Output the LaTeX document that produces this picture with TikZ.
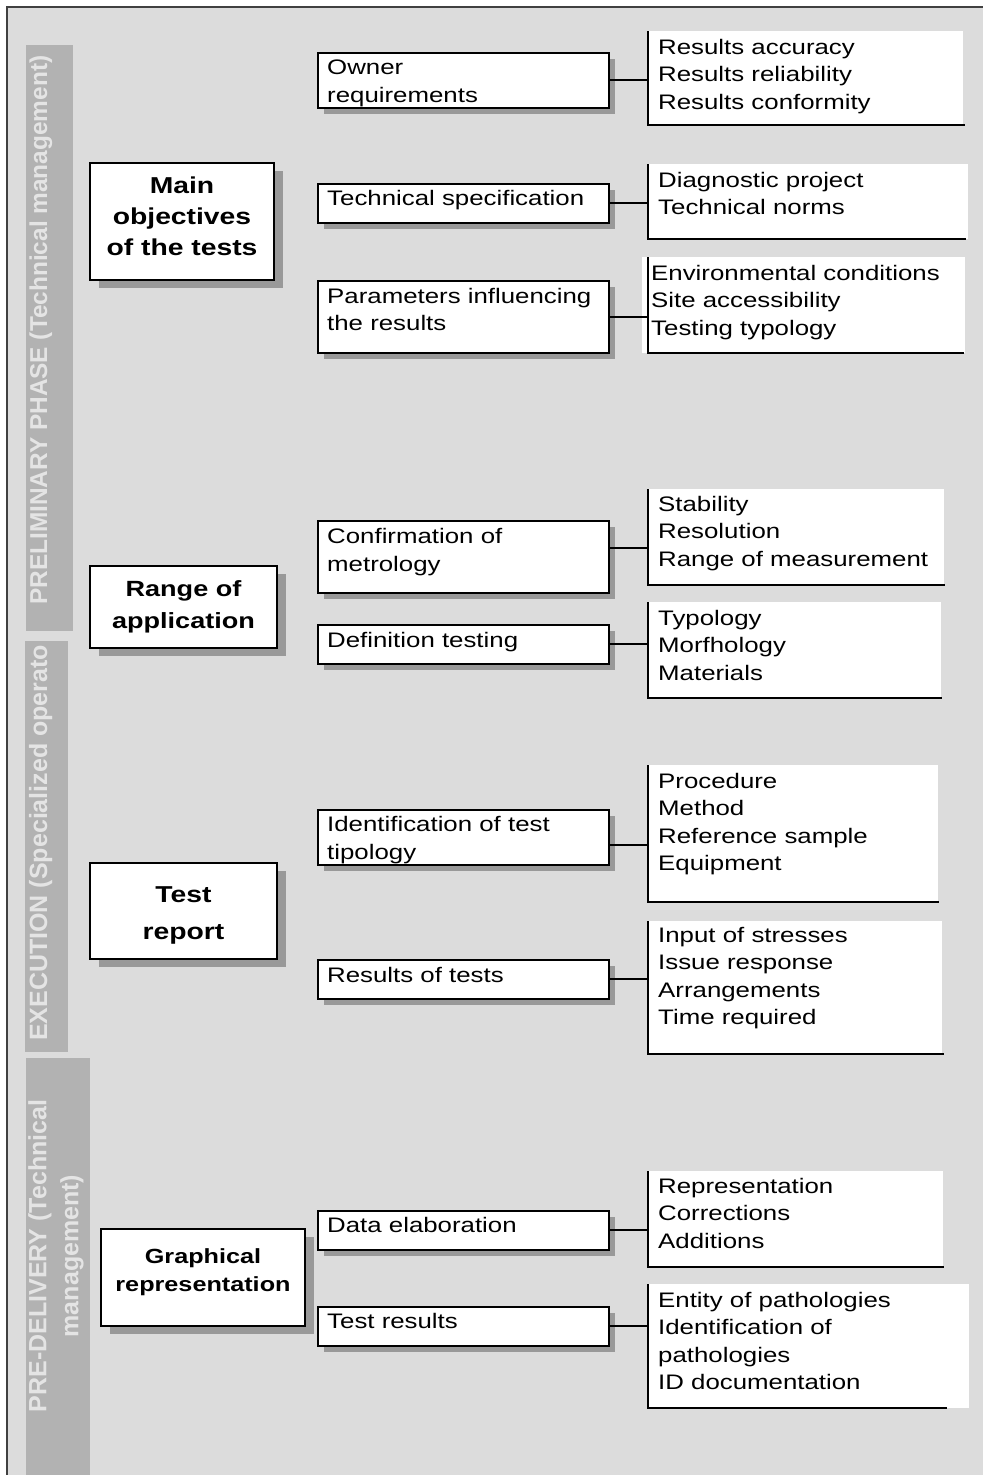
\documentclass[tikz,border=0pt]{standalone}
\usepackage{fontspec}
\setmainfont{Liberation Sans}
\newfontfamily\widefont{Liberation Sans}[FakeStretch=1.23]
\usetikzlibrary{shadows}
\definecolor{bgc}{HTML}{DCDCDC}
\definecolor{bandc}{HTML}{B2B2B2}
\definecolor{bandtext}{HTML}{E4E4E4}
\definecolor{shadc}{HTML}{999999}
\definecolor{framec}{HTML}{404040}
\begin{document}
\begin{tikzpicture}[x=1pt,y=-1pt,
 mainbox/.style={draw=black, line width=1.8pt, fill=white, rectangle, inner sep=0pt,
   general shadow={fill=shadc, shadow xshift=9pt, shadow yshift=-8pt}},
 maintxt/.style={inner sep=0pt, align=center},
 midbox/.style={draw=black, line width=1.8pt, fill=white, rectangle, inner sep=0pt, anchor=north west,
   minimum width=291pt, general shadow={fill=shadc, shadow xshift=6pt, shadow yshift=-6pt}},
 rbox/.style={fill=white, rectangle, inner sep=0pt, anchor=north west},
 txt/.style={anchor=north west, inner sep=0pt, align=left, font=\widefont\fontsize{21}{27.5}\selectfont},
 bandtxt/.style={rotate=90, inner sep=0pt, text=bandtext, font=\bfseries\fontsize{24.4}{32}\selectfont},
 conn/.style={line width=2pt, draw=black},
 rline/.style={line width=2pt}
]
\useasboundingbox (0,0) rectangle (983,1475);
\fill[white] (0,0) rectangle (983,1475);
\fill[bgc] (7,7) rectangle (983,1475);
\draw[framec, line width=1.5pt] (7,1475) -- (7,7) -- (983,7);

% bands
\fill[bandc] (26,45) rectangle (73,631);
\fill[bandc] (25,641) rectangle (68,1052);
\fill[bandc] (26,1058) rectangle (90,1475);
\node[bandtxt, anchor=base west] (t1) at (47,605) {PRELIMINARY PHASE (Technical management)};
\begin{scope}
\clip (25,641) rectangle (68,1052);
\node[bandtxt, anchor=base west, font=\bfseries\fontsize{25}{32}\selectfont] (t2) at (47,1041) {EXECUTION (Specialized operato};
\end{scope}
\node[bandtxt, align=center, font=\bfseries\fontsize{25}{32}\selectfont] (t3) at (56,1256) {PRE-DELIVERY (Technical\\management)};

% main boxes
\node[mainbox, minimum width=184pt, minimum height=117pt] (A) at (182,221.5) {};
\node[maintxt, font=\widefont\bfseries\fontsize{23}{31}\selectfont] (At) at ([yshift=5pt]A.center) {Main\\objectives\\of the tests};
\node[mainbox, minimum width=187pt, minimum height=82pt] (B) at (183.5,607) {};
\node[maintxt, font=\widefont\bfseries\fontsize{22}{32}\selectfont] (Bt) at (B.center) {Range of\\application};
\node[mainbox, minimum width=187pt, minimum height=96pt] (C) at (183.5,911) {};
\node[maintxt, font=\widefont\bfseries\fontsize{23}{37}\selectfont] (Ct) at ([yshift=-4pt]C.center) {Test\\report};
\node[mainbox, minimum width=204pt, minimum height=97pt] (D) at (203,1277.5) {};
\node[maintxt, font=\widefont\bfseries\fontsize{20.5}{28}\selectfont] (Dt) at ([yshift=5pt]D.center) {Graphical\\representation};

% middle boxes
\node[midbox, minimum height=55pt] (m1) at (317,52) {};
\node[midbox, minimum height=39pt] (m2) at (317,183) {};
\node[midbox, minimum height=72pt] (m3) at (317,280) {};
\node[midbox, minimum height=72pt] (m4) at (317,520) {};
\node[midbox, minimum height=39pt] (m5) at (317,624) {};
\node[midbox, minimum height=55pt] (m6) at (317,809) {};
\node[midbox, minimum height=39pt] (m7) at (317,959) {};
\node[midbox, minimum height=39pt] (m8) at (317,1210) {};
\node[midbox, minimum height=39pt] (m9) at (317,1306) {};

\node[txt] (m1t) at ([xshift=10pt,yshift=-8pt]m1.north west) {Owner\\requirements};
\node[txt] (m2t) at ([xshift=10pt,yshift=-7.5pt]m2.north west) {Technical specification};
\node[txt] (m3t) at ([xshift=10pt,yshift=-8pt]m3.north west) {Parameters influencing\\the results};
\node[txt] (m4t) at ([xshift=10pt,yshift=-8.5pt]m4.north west) {Confirmation of\\metrology};
\node[txt] (m5t) at ([xshift=10pt,yshift=-8pt]m5.north west) {Definition testing};
\node[txt] (m6t) at ([xshift=10pt,yshift=-7.5pt]m6.north west) {Identification of test\\tipology};
\node[txt] (m7t) at ([xshift=10pt,yshift=-8pt]m7.north west) {Results of tests};
\node[txt] (m8t) at ([xshift=10pt,yshift=-7.5pt]m8.north west) {Data elaboration};
\node[txt] (m9t) at ([xshift=10pt,yshift=-7.5pt]m9.north west) {Test results};

% right boxes
\fill[white] (642,257) rectangle (648,353);
\node[rbox, minimum width=315pt, minimum height=94pt] (r1) at (648,31) {};
\node[rbox, minimum width=320pt, minimum height=75pt] (r2) at (648,164) {};
\node[rbox, minimum width=317pt, minimum height=96pt] (r3) at (648,257) {};
\node[rbox, minimum width=296pt, minimum height=96pt] (r4) at (648,489) {};
\node[rbox, minimum width=293pt, minimum height=96pt] (r5) at (648,602) {};
\node[rbox, minimum width=290pt, minimum height=137pt] (r6) at (648,765) {};
\node[rbox, minimum width=294pt, minimum height=133pt] (r7) at (648,921) {};
\node[rbox, minimum width=295pt, minimum height=96pt] (r8) at (648,1171) {};
\node[rbox, minimum width=321pt, minimum height=124pt] (r9) at (648,1284) {};

\draw[rline] (r1.north west) -- (r1.south west) -- ([xshift=2pt]r1.south east);
\draw[rline] (r2.north west) -- (r2.south west) -- ([xshift=-2pt]r2.south east);
\draw[rline] (r3.north west) -- (r3.south west) -- ([xshift=-1pt]r3.south east);
\draw[rline] (r4.north west) -- (r4.south west) -- ([xshift=1pt]r4.south east);
\draw[rline] (r5.north west) -- (r5.south west) -- ([xshift=1pt]r5.south east);
\draw[rline] (r6.north west) -- (r6.south west) -- ([xshift=1pt]r6.south east);
\draw[rline] (r7.north west) -- (r7.south west) -- ([xshift=2pt]r7.south east);
\draw[rline] (r8.north west) -- (r8.south west) -- ([xshift=1pt]r8.south east);
\draw[rline] (r9.north west) -- (r9.south west) -- ([xshift=-22pt]r9.south east);

\node[txt] (r1t) at ([xshift=10pt,yshift=-8pt]r1.north west) {Results accuracy\\Results reliability\\Results conformity};
\node[txt] (r2t) at ([xshift=10pt,yshift=-8pt]r2.north west) {Diagnostic project\\Technical norms};
\node[txt] (r3t) at ([xshift=3pt,yshift=-8pt]r3.north west) {Environmental conditions\\Site accessibility\\Testing typology};
\node[txt] (r4t) at ([xshift=10pt,yshift=-7pt]r4.north west) {Stability\\Resolution\\Range of measurement};
\node[txt] (r5t) at ([xshift=10pt,yshift=-8pt]r5.north west) {Typology\\Morfhology\\Materials};
\node[txt] (r6t) at ([xshift=10pt,yshift=-8pt]r6.north west) {Procedure\\Method\\Reference sample\\Equipment};
\node[txt] (r7t) at ([xshift=10pt,yshift=-6pt]r7.north west) {Input of stresses\\Issue response\\Arrangements\\Time required};
\node[txt] (r8t) at ([xshift=10pt,yshift=-7pt]r8.north west) {Representation\\Corrections\\Additions};
\node[txt] (r9t) at ([xshift=10pt,yshift=-8pt]r9.north west) {Entity of pathologies\\Identification of\\pathologies\\ID documentation};

% connectors
\draw[conn] (m1.east) -- (m1.east -| r1.west);
\draw[conn] (m2.east) -- (m2.east -| r2.west);
\draw[conn] (m3.east) -- (m3.east -| r3.west);
\draw[conn] ([yshift=9pt]m4.east) -- ([yshift=9pt]m4.east -| r4.west);
\draw[conn] (m5.east) -- (m5.east -| r5.west);
\draw[conn] ([yshift=-7.5pt]m6.east) -- ([yshift=-7.5pt]m6.east -| r6.west);
\draw[conn] (m7.east) -- (m7.east -| r7.west);
\draw[conn] (m8.east) -- (m8.east -| r8.west);
\draw[conn] (m9.east) -- (m9.east -| r9.west);
\end{tikzpicture}
\end{document}
